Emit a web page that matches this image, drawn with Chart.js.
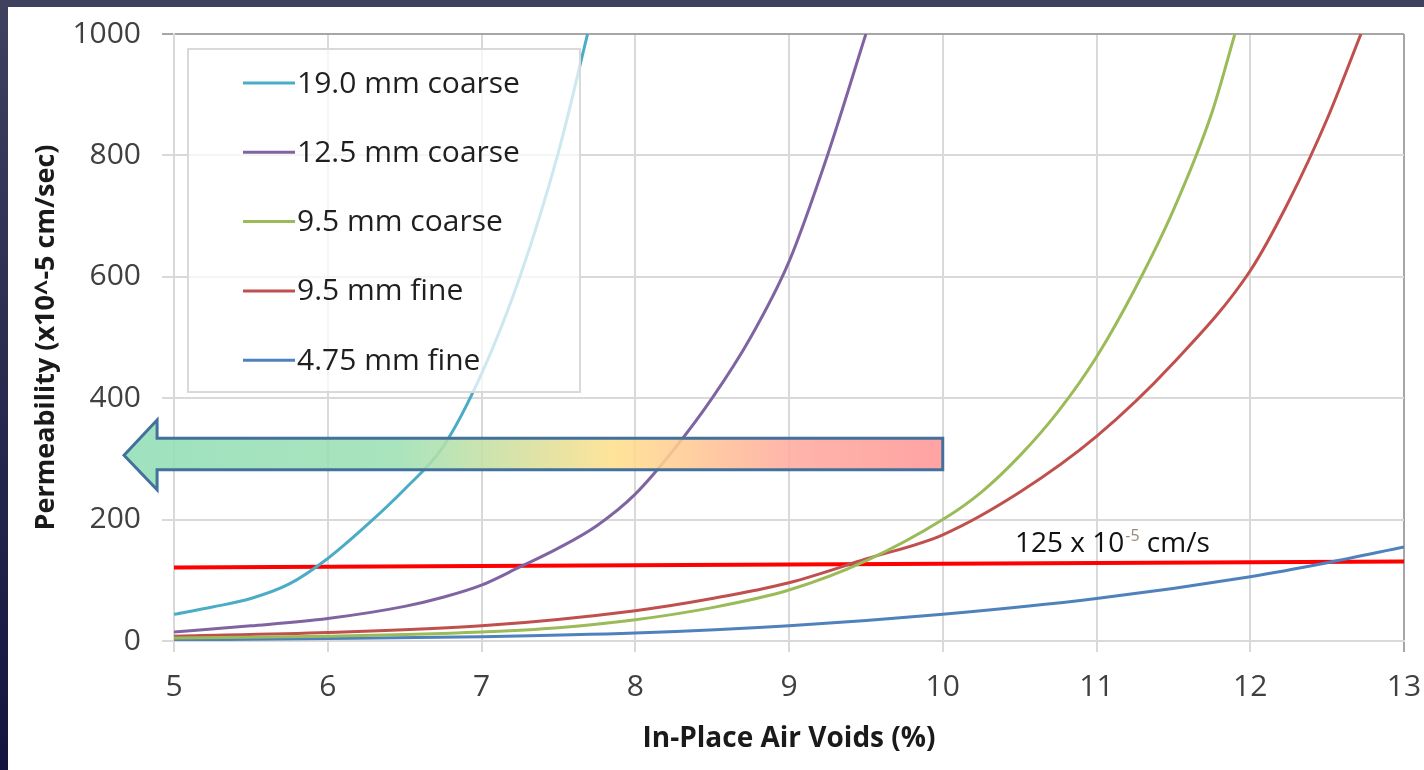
<!DOCTYPE html>
<html>
<head>
<meta charset="utf-8">
<script src="https://cdn.jsdelivr.net/npm/chart.js@4.4.1/dist/chart.umd.min.js"></script>
<style>
  html, body { margin: 0; padding: 0; }
  body {
    width: 1424px; height: 770px; overflow: hidden;
    background: linear-gradient(to bottom, #40405f, #141440);
  }
  #wrap {
    position: absolute; left: 8px; top: 7px;
    width: 1416px; height: 763px; background: #ffffff;
  }
</style>
</head>
<body>
<div id="wrap"><canvas id="myChart" width="1416" height="763"></canvas></div>
<script>
// series (x = air voids %, y = permeability)
const seriesNames = ["19.0 mm coarse", "12.5 mm coarse", "9.5 mm coarse", "9.5 mm fine", "4.75 mm fine"];
const seriesColors = ["#4bacc6", "#8064a2", "#9bbb59", "#c0504d", "#4f81bd"];

const x190c = [5, 5.25, 5.5, 5.75, 6, 6.25, 6.5, 6.75, 7, 7.25, 7.5, 7.69];
const y190c = [44, 56, 70, 94, 136, 190, 250, 320, 440, 600, 805, 1000];

const x125c = [5, 5.5, 6, 6.5, 6.75, 7, 7.25, 7.5, 7.75, 8, 8.25, 8.5, 8.75, 9, 9.25, 9.5];
const y125c = [15, 25, 37, 57, 72, 92, 122, 153, 190, 242, 315, 400, 500, 625, 800, 1000];

const x95c = [5, 6, 7, 7.5, 8, 8.5, 9, 9.5, 10, 10.25, 10.5, 10.75, 11, 11.25, 11.5, 11.75, 11.9];
const y95c = [5, 8, 15, 22, 35, 55, 84, 132, 200, 245, 305, 378, 468, 580, 710, 870, 1000];

const x95f = [5, 6, 7, 8, 8.5, 9, 9.5, 10, 10.5, 11, 11.5, 12, 12.25, 12.5, 12.72];
const y95f = [8, 14, 25, 50, 70, 96, 135, 175, 245, 337, 458, 610, 724, 860, 1000];

const x475f = [5, 6, 7, 8, 9, 10, 11, 12, 12.5, 13];
const y475f = [2, 4, 7, 13, 25, 44, 70, 106, 129, 155];

// 125 x 10^-5 cm/s limit line (drawn slightly tilted in the original)
const limitX = [5, 13];
const limitY = [121, 131];
const limitLabel = ["125 x 10", "-5", " cm/s"];
const limitLabelAt = [10.47, 146];

// big gradient arrow, in data units
const arrowTip = [4.675, 306];
const arrowHeadX = 4.89;
const arrowHeadY = [364, 249];
const arrowBodyY = [334, 282];
const arrowEndX = 10;

// axes
const xMin = 5, xMax = 13, xStep = 1;
const yMin = 0, yMax = 1000, yStep = 200;

const xs = [x190c, x125c, x95c, x95f, x475f];
const ys = [y190c, y125c, y95c, y95f, y475f];

const pts = (a, b) => a.map((v, i) => ({ x: v, y: b[i] }));

const datasets = seriesNames.map((name, i) => ({
  label: name,
  data: pts(xs[i], ys[i]),
  borderColor: seriesColors[i],
  borderWidth: 3,
  pointRadius: 0,
  cubicInterpolationMode: "monotone",
  fill: false
}));
datasets.push({
  label: "limit",
  data: pts(limitX, limitY),
  borderColor: "#ff0000",
  borderWidth: 4,
  pointRadius: 0,
  fill: false
});

const extras = {
  id: "extras",
  afterDatasetsDraw(chart) {
    const { ctx, chartArea: ca } = chart;
    const sx = chart.scales.x, sy = chart.scales.y;
    const px = (v) => sx.getPixelForValue(v);
    const py = (v) => sy.getPixelForValue(v);

    // arrow
    ctx.save();
    ctx.beginPath();
    ctx.moveTo(px(arrowTip[0]), py(arrowTip[1]));
    ctx.lineTo(px(arrowHeadX), py(arrowHeadY[0]));
    ctx.lineTo(px(arrowHeadX), py(arrowBodyY[0]));
    ctx.lineTo(px(arrowEndX), py(arrowBodyY[0]));
    ctx.lineTo(px(arrowEndX), py(arrowBodyY[1]));
    ctx.lineTo(px(arrowHeadX), py(arrowBodyY[1]));
    ctx.lineTo(px(arrowHeadX), py(arrowHeadY[1]));
    ctx.closePath();
    const g = ctx.createLinearGradient(px(arrowTip[0]), 0, px(arrowEndX), 0);
    g.addColorStop(0, "rgba(146,222,182,0.88)");
    g.addColorStop(0.33, "rgba(156,224,180,0.88)");
    g.addColorStop(0.6, "rgba(255,223,140,0.88)");
    g.addColorStop(0.82, "rgba(255,170,158,0.88)");
    g.addColorStop(1, "rgba(255,150,150,0.88)");
    ctx.fillStyle = g;
    ctx.fill();
    ctx.lineWidth = 3;
    ctx.strokeStyle = "#41719c";
    ctx.lineJoin = "miter";
    ctx.stroke();
    ctx.restore();

    // limit label
    ctx.save();
    ctx.fillStyle = "#111111";
    ctx.textBaseline = "alphabetic";
    let tx = px(limitLabelAt[0]);
    const ty = py(limitLabelAt[1]);
    ctx.font = "28px 'Open Sans'";
    ctx.fillText(limitLabel[0], tx, ty);
    tx += ctx.measureText(limitLabel[0]).width + 1;
    ctx.font = "16px 'Open Sans'";
    ctx.fillStyle = "#9a8a7a";
    ctx.fillText(limitLabel[1], tx, ty - 11);
    tx += ctx.measureText(limitLabel[1]).width;
    ctx.font = "28px 'Open Sans'";
    ctx.fillStyle = "#111111";
    ctx.fillText(limitLabel[2], tx, ty);
    ctx.restore();

    // legend box inside the plot
    ctx.save();
    const bx = ca.left + 14, by = ca.top + 15, bw = 392, bh = 343;
    ctx.fillStyle = "rgba(255,255,255,0.72)";
    ctx.fillRect(bx, by, bw, bh);
    ctx.strokeStyle = "#d9d9d9";
    ctx.lineWidth = 2;
    ctx.strokeRect(bx, by, bw, bh);
    ctx.font = "30px 'Open Sans'";
    ctx.textBaseline = "middle";
    seriesNames.forEach((name, i) => {
      const ry = ca.top + 49 + i * 69.3;
      ctx.strokeStyle = seriesColors[i];
      ctx.lineWidth = 3;
      ctx.beginPath();
      ctx.moveTo(ca.left + 69, ry);
      ctx.lineTo(ca.left + 121, ry);
      ctx.stroke();
      ctx.fillStyle = "#1f1f1f";
      ctx.fillText(name, ca.left + 123, ry + 1);
    });
    ctx.restore();
  }
};

new Chart(document.getElementById("myChart"), {
  type: "line",
  data: { datasets: datasets },
  plugins: [extras],
  options: {
    responsive: false,
    animation: false,
    layout: { padding: { top: 27, right: 20, left: 0, bottom: 0 } },
    plugins: { legend: { display: false }, tooltip: { enabled: false } },
    scales: {
      x: {
        type: "linear",
        min: xMin, max: xMax,
        afterFit: (s) => { s.height = 129; s.paddingLeft = 0; s.paddingRight = 0; },
        ticks: { stepSize: xStep, color: "#404040", font: { family: "Open Sans", size: 30 }, padding: 17,
                 callback: (v) => String(v) },
        grid: {
          color: (c) => (c.tick && c.tick.value === xMax ? "#a6a6a6" : "#d9d9d9"),
          lineWidth: 2,
          tickLength: 11
        },
        border: { color: "#d9d9d9", width: 2 },
        title: {
          display: true,
          text: "In-Place Air Voids (%)",
          color: "#1a1a1a",
          font: { family: "Open Sans", size: 28, weight: "bold" },
          padding: { top: 0, bottom: 14 }
        }
      },
      y: {
        min: yMin, max: yMax,
        afterFit: (s) => { s.width = 166; s.paddingTop = 0; s.paddingBottom = 0; },
        ticks: { stepSize: yStep, color: "#404040", font: { family: "Open Sans", size: 30 }, padding: 21,
                 callback: (v) => String(v) },
        grid: {
          color: (c) => (c.tick && c.tick.value === yMax ? "#a6a6a6" : "#d9d9d9"),
          lineWidth: 2,
          tickLength: 12
        },
        border: { color: "#d9d9d9", width: 2 },
        title: {
          display: true,
          text: "Permeability (x10^-5 cm/sec)",
          color: "#1a1a1a",
          font: { family: "Open Sans", size: 27, weight: "bold" },
          padding: { top: 22, bottom: 0 }
        }
      }
    }
  }
});
</script>
</body>
</html>
